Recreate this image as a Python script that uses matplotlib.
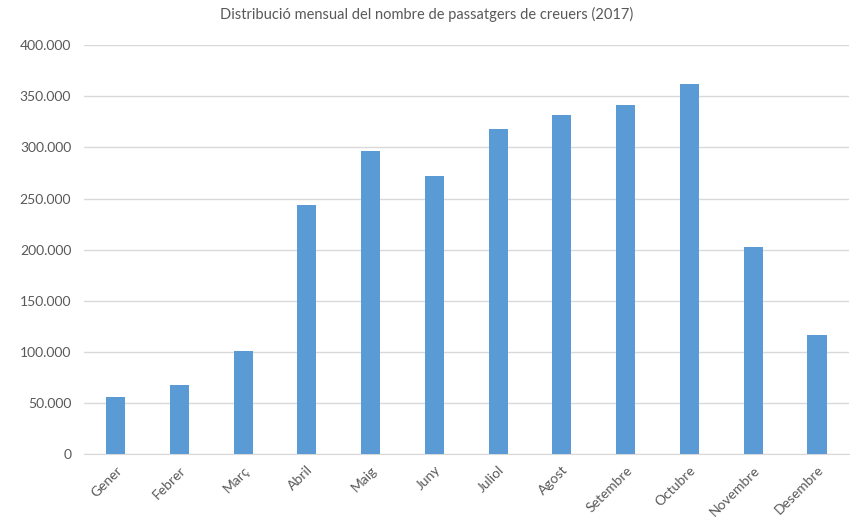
import matplotlib
matplotlib.use("Agg")
from matplotlib import pyplot as plt
from matplotlib.ticker import FuncFormatter

months = ["Gener", "Febrer", "Març", "Abril", "Maig", "Juny", "Juliol",
          "Agost", "Setembre", "Octubre", "Novembre", "Desembre"]
passengers = [56000, 67500, 100700, 243500, 296600, 272500, 318200,
              331200, 341300, 361900, 202800, 116100]
yticks = [0, 50000, 100000, 150000, 200000, 250000, 300000, 350000, 400000]

TEXT = "#595959"

plt.rcParams['font.family'] = ['Lato', 'DejaVu Sans']

fig = plt.figure(figsize=(8.54, 5.25), dpi=100)
ax = fig.add_axes([0.098, 0.135, 0.896, 0.779])

ax.bar(range(len(months)), passengers, width=0.3, color="#5B9BD5", zorder=3)

ax.set_xlim(-0.5, len(months) - 0.5)
ax.set_ylim(0, 400000)
ax.set_yticks(yticks)
ax.yaxis.set_major_formatter(FuncFormatter(lambda v, p: f"{int(v):,}".replace(",", ".")))
ax.set_xticks(range(len(months)))
ax.set_xticklabels(months, rotation=45, ha="right", rotation_mode="anchor")

ax.grid(axis="y", color="#D9D9D9", linewidth=1, zorder=0)
for s in ["top", "right", "left"]:
    ax.spines[s].set_visible(False)
ax.spines["bottom"].set_color("#D9D9D9")
ax.tick_params(axis="both", length=0, colors=TEXT, labelsize=10)
ax.tick_params(axis="y", pad=9)
ax.tick_params(axis="x", pad=7)

fig.text(0.5, 0.972, "Distribució mensual del nombre de passatgers de creuers (2017)",
         ha="center", va="center", fontsize=10.5, color=TEXT)

fig.savefig("out.png", dpi=100)
